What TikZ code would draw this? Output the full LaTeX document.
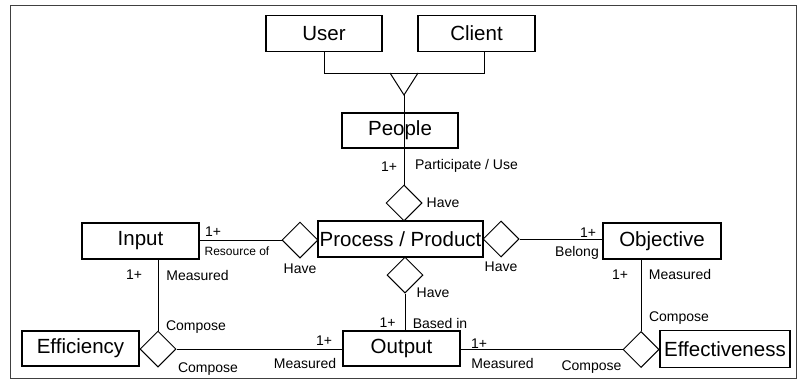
\documentclass[tikz,border=0pt]{standalone}
\usepackage{fontspec}
\setmainfont{Liberation Sans}
\usetikzlibrary{shapes.geometric}
\tikzset{
 ent/.style={draw,line width=1.2pt,minimum height=36pt,inner sep=0pt,font=\fontsize{20.5}{24}\selectfont},
 rel/.style={draw,diamond,line width=1pt,minimum width=36pt,minimum height=36pt,inner sep=0pt},
 lbl/.style={inner sep=0pt,font=\fontsize{14}{16}\selectfont},
}
\begin{document}
\begin{tikzpicture}[x=1pt,y=-1pt,line width=1pt]
\useasboundingbox (0,0) rectangle (799,381);
%cadre
\draw[black!75] (10,5) rectangle (796,378);
%entites
\node[ent,minimum width=116pt] (user) at (324,33.5) {User};
\node[ent,minimum width=117pt] (client) at (476.5,33.5) {Client};
\node[ent,minimum width=116pt,minimum height=35pt] (people) at (400,130.5) {People};
\node[ent,minimum width=165pt] (process) at (400.5,239) {Process / Product};
\node[ent,minimum width=117pt] (input) at (140.5,241) {Input};
\node[ent,minimum width=118pt] (objective) at (662,241) {Objective};
\node[ent,minimum width=117pt,minimum height=35pt] (efficiency) at (80.5,348.5) {Efficiency};
\node[ent,minimum width=117pt,minimum height=35pt] (output) at (401.5,348.5) {Output};
\node[ent,minimum width=130pt,minimum height=37pt] (effectiveness) at (725,349) {Effectiveness};
%relations
\node[rel] (dpeo) at (404,203) {};
\node[rel] (din) at (300,240) {};
\node[rel] (dobj) at (501,239) {};
\node[rel] (dout) at (405,275) {};
\node[rel] (deff) at (158,349) {};
\node[rel] (defv) at (641,349.5) {};
%user / client -> people
\coordinate (jn) at (484,73);
\coordinate (forkl) at (390,73);
\coordinate (forkr) at (418,73);
\coordinate (fork) at (404,95);
\draw (user.south) |- (jn) -- (jn |- client.south);
\draw (forkl) -- (fork) -- (forkr);
\draw (fork) -- (fork |- people.south);
%liens
\draw (dpeo.north) -- (dpeo.north |- people.south);
\draw (din.west) -- (din.west -| input.east);
\draw (dobj.east) -- (dobj.east -| objective.west);
\draw (dout.south) -- (dout.south |- output.north);
\draw (deff.north) -- (deff.north |- input.south);
\draw (deff.east) -- (deff.east -| output.west);
\draw (defv.west) -- (defv.west -| output.east);
\draw (defv.north) -- (defv.north |- objective.south);
%textes
\node[lbl] (c1) at (389,167) {1+};
\node[lbl] (t1) at (466.5,166) {Participate / Use};
\node[lbl] (h1) at (443,203) {Have};
\node[lbl] (c2) at (213,232) {1+};
\node[lbl,font=\fontsize{12}{14}\selectfont] (t2) at (237,251) {Resource of};
\node[lbl] (h2) at (300,269) {Have};
\node[lbl] (h3) at (501,267) {Have};
\node[lbl] (c3) at (588,233) {1+};
\node[lbl] (t3) at (577,253) {Belong};
\node[lbl] (h4) at (433,293) {Have};
\node[lbl] (c4) at (387.5,323) {1+};
\node[lbl] (t4) at (440,323) {Based in};
\node[lbl] (c5) at (134,275) {1+};
\node[lbl] (m1) at (197.5,275) {Measured};
\node[lbl] (k1) at (196,327) {Compose};
\node[lbl] (k2) at (208,369) {Compose};
\node[lbl] (c6) at (324,341) {1+};
\node[lbl] (m2) at (305,363) {Measured};
\node[lbl] (c7) at (479,344) {1+};
\node[lbl] (m3) at (502.5,363) {Measured};
\node[lbl] (k3) at (591.5,367) {Compose};
\node[lbl] (c8) at (620,275) {1+};
\node[lbl] (m4) at (680,274) {Measured};
\node[lbl] (k4) at (679,318) {Compose};
\end{tikzpicture}
\end{document}
